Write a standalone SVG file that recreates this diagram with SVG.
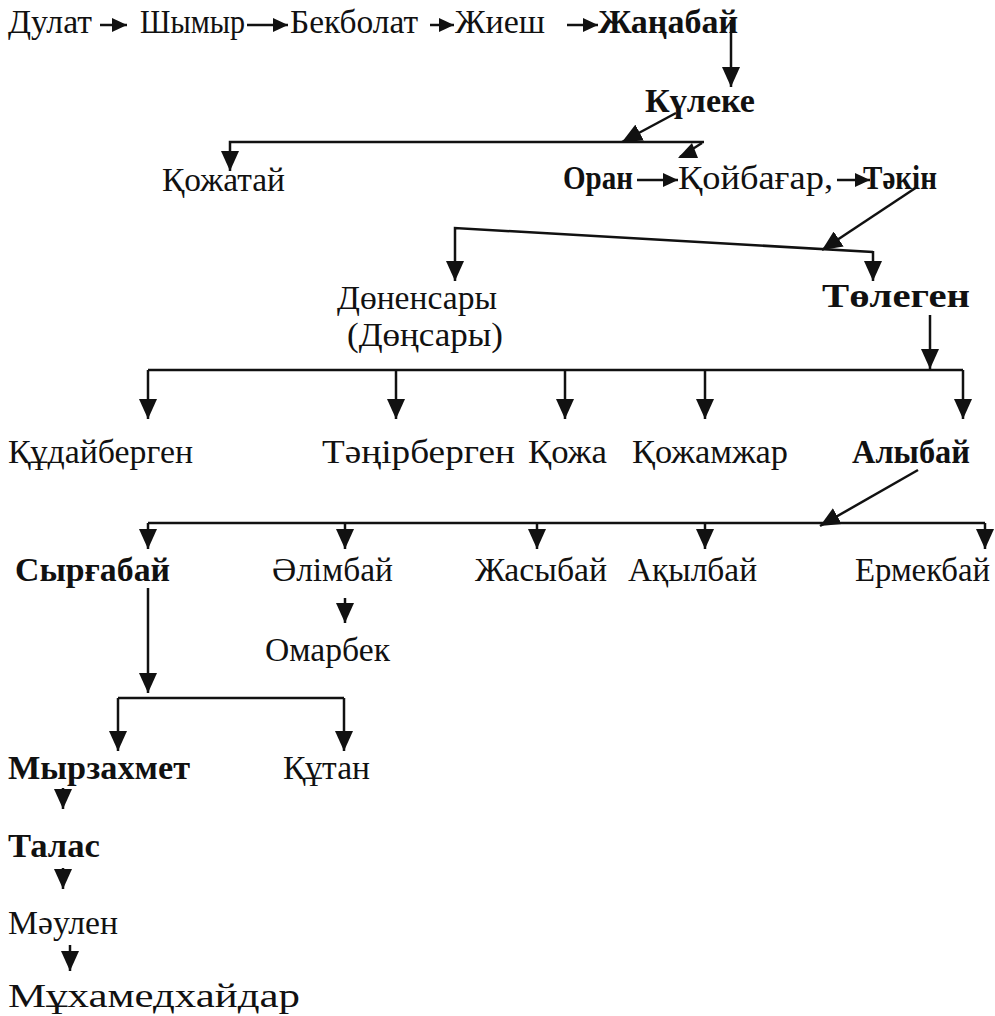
<svg xmlns="http://www.w3.org/2000/svg" width="995" height="1016" viewBox="0 0 995 1016">
<defs>
<style>
text{font-family:"Liberation Serif","Times New Roman",serif;font-size:34px;fill:#111}
.b{font-weight:bold}
.c{stroke:#111;stroke-width:2.5;fill:none}
.big{marker-end:url(#ah)}
.sml{marker-end:url(#as)}
</style>
<marker id="ah" markerUnits="userSpaceOnUse" markerWidth="20" markerHeight="18" refX="20" refY="9" orient="auto" viewBox="0 0 20 18"><path d="M0,0 L20,9 L0,18 z" fill="#111"/></marker>
<marker id="as" markerUnits="userSpaceOnUse" markerWidth="15" markerHeight="14" refX="15" refY="7" orient="auto" viewBox="0 0 15 14"><path d="M0,0 L15,7 L0,14 z" fill="#111"/></marker>
</defs>
<rect width="995" height="1016" fill="#fff"/>
<g id="connectors">
<line class="c sml" x1="100" y1="25" x2="127" y2="25"/>
<line class="c sml" x1="247" y1="25" x2="288" y2="25"/>
<line class="c sml" x1="430" y1="25" x2="454" y2="25"/>
<line class="c sml" x1="567" y1="25" x2="598" y2="25"/>
<line class="c big" x1="731" y1="20" x2="731" y2="87"/>
<line class="c big" x1="676" y1="113" x2="622" y2="142"/>
<path class="c big" d="M704,142 H230 V171"/>
<polygon points="678,158 698,158 692,143" fill="#111"/>
<line class="c" x1="702" y1="143" x2="680" y2="157"/>
<line class="c sml" x1="637" y1="180" x2="678" y2="180"/>
<line class="c sml" x1="837" y1="180" x2="870" y2="180"/>
<line class="c big" x1="917" y1="187" x2="822" y2="250"/>
<path class="c big" d="M873,252 L455,228 V281"/>
<path class="c big" d="M873,251 V281"/>
<line class="c big" x1="930" y1="315" x2="930" y2="369"/>
<path class="c" d="M148,370 H963"/>
<line class="c big" x1="148" y1="370" x2="148" y2="419"/>
<line class="c big" x1="396" y1="370" x2="396" y2="419"/>
<line class="c big" x1="565" y1="370" x2="565" y2="419"/>
<line class="c big" x1="705" y1="370" x2="705" y2="419"/>
<line class="c big" x1="963" y1="370" x2="963" y2="419"/>
<line class="c big" x1="918" y1="470" x2="820" y2="526"/>
<path class="c" d="M148,523 H985"/>
<line class="c big" x1="148" y1="523" x2="148" y2="549"/>
<line class="c big" x1="345" y1="523" x2="345" y2="549"/>
<line class="c big" x1="537" y1="523" x2="537" y2="549"/>
<line class="c big" x1="705" y1="523" x2="705" y2="549"/>
<line class="c big" x1="985" y1="523" x2="985" y2="549"/>
<line class="c big" x1="345" y1="598" x2="345" y2="623"/>
<line class="c big" x1="148" y1="588" x2="148" y2="693"/>
<path class="c" d="M118,698 H344"/>
<line class="c big" x1="118" y1="698" x2="118" y2="751"/>
<line class="c big" x1="344" y1="698" x2="344" y2="751"/>
<line class="c big" x1="63" y1="788" x2="63" y2="809"/>
<line class="c big" x1="63" y1="868" x2="63" y2="889"/>
<line class="c big" x1="70" y1="945" x2="70" y2="971"/>
</g>
<g id="n-dulat"><text x="8" y="33" textLength="84" lengthAdjust="spacingAndGlyphs">Дулат</text></g>
<g id="n-shymyr"><text x="140" y="33" textLength="105" lengthAdjust="spacingAndGlyphs">Шымыр</text></g>
<g id="n-bekbolat"><text x="290" y="33" textLength="128" lengthAdjust="spacingAndGlyphs">Бекболат</text></g>
<g id="n-zhiesh"><text x="455" y="33" textLength="90" lengthAdjust="spacingAndGlyphs">Жиеш</text></g>
<g id="n-zhanabai"><text class="b" x="598" y="33" textLength="140" lengthAdjust="spacingAndGlyphs">Жаңабай</text></g>
<g id="n-kuleke"><text class="b" x="645" y="112" textLength="110" lengthAdjust="spacingAndGlyphs">Күлеке</text></g>
<g id="n-kozhatai"><text x="162" y="191" textLength="123" lengthAdjust="spacingAndGlyphs">Қожатай</text></g>
<g id="n-oran"><text class="b" x="563" y="189" textLength="70" lengthAdjust="spacingAndGlyphs">Оран</text></g>
<g id="n-koibagar"><text x="678" y="189" textLength="155" lengthAdjust="spacingAndGlyphs">Қойбағар,</text></g>
<g id="n-tekin"><text class="b" x="863" y="189" textLength="74" lengthAdjust="spacingAndGlyphs">Тәкін</text></g>
<g id="n-donensary"><text x="337" y="309" textLength="160" lengthAdjust="spacingAndGlyphs">Дөненсары</text><text x="347" y="346" textLength="156" lengthAdjust="spacingAndGlyphs">(Дөңсары)</text></g>
<g id="n-tolegen"><text class="b" x="822" y="307" textLength="148" lengthAdjust="spacingAndGlyphs">Төлеген</text></g>
<g id="n-kudaibergen"><text x="8" y="463" textLength="185" lengthAdjust="spacingAndGlyphs">Құдайберген</text></g>
<g id="n-tanirbergen"><text x="322" y="463" textLength="193" lengthAdjust="spacingAndGlyphs">Тәңірберген</text></g>
<g id="n-kozha"><text x="528" y="463" textLength="79" lengthAdjust="spacingAndGlyphs">Қожа</text></g>
<g id="n-kozhamzhar"><text x="632" y="463" textLength="156" lengthAdjust="spacingAndGlyphs">Қожамжар</text></g>
<g id="n-alybai"><text class="b" x="852" y="463" textLength="118" lengthAdjust="spacingAndGlyphs">Алыбай</text></g>
<g id="n-syrgabai"><text class="b" x="15" y="581" textLength="155" lengthAdjust="spacingAndGlyphs">Сырғабай</text></g>
<g id="n-alimbai"><text x="272" y="581" textLength="121" lengthAdjust="spacingAndGlyphs">Әлімбай</text></g>
<g id="n-zhasybai"><text x="475" y="581" textLength="132" lengthAdjust="spacingAndGlyphs">Жасыбай</text></g>
<g id="n-akylbai"><text x="628" y="581" textLength="129" lengthAdjust="spacingAndGlyphs">Ақылбай</text></g>
<g id="n-ermekbai"><text x="855" y="581" textLength="135" lengthAdjust="spacingAndGlyphs">Ермекбай</text></g>
<g id="n-omarbek"><text x="265" y="661" textLength="125" lengthAdjust="spacingAndGlyphs">Омарбек</text></g>
<g id="n-myrzakhmet"><text class="b" x="8" y="779" textLength="182" lengthAdjust="spacingAndGlyphs">Мырзахмет</text></g>
<g id="n-kutan"><text x="283" y="779" textLength="87" lengthAdjust="spacingAndGlyphs">Құтан</text></g>
<g id="n-talas"><text class="b" x="8" y="857" textLength="92" lengthAdjust="spacingAndGlyphs">Талас</text></g>
<g id="n-maulen"><text x="8" y="934" textLength="110" lengthAdjust="spacingAndGlyphs">Мәулен</text></g>
<g id="n-mukhamedkhaidar"><text x="8" y="1007" textLength="292" lengthAdjust="spacingAndGlyphs">Мұхамедхайдар</text></g>
</svg>
